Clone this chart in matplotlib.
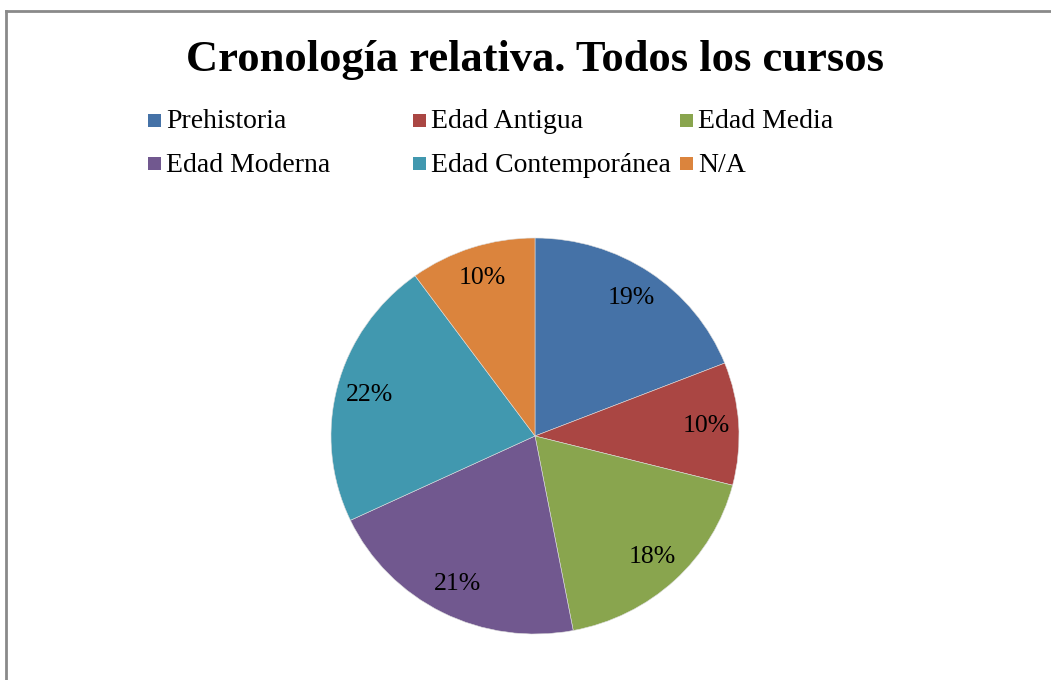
import matplotlib
matplotlib.use('Agg')
import matplotlib.pyplot as plt
from matplotlib.patches import Rectangle
from matplotlib.lines import Line2D

# Datos del gráfico
periodos = ['Prehistoria', 'Edad Antigua', 'Edad Media',
            'Edad Moderna', 'Edad Contemporánea', 'N/A']
porcentajes = [19, 10, 18, 21, 22, 10]
colores = ['#4572A7', '#AA4643', '#89A54E', '#71588F', '#4198AF', '#DB843D']
titulo = 'Cronología relativa. Todos los cursos'

plt.rcParams['font.family'] = ['Liberation Serif', 'DejaVu Serif']

W, H = 1051, 680
fig = plt.figure(figsize=(W / 100, H / 100), dpi=100)


def fx(px):
    return px / W


def fy(py):
    return 1 - py / H


# marco gris (solo lados izquierdo y superior visibles)
fig.add_artist(Line2D([fx(6), 1], [fy(11), fy(11)], color='#8a8a8a', lw=2))
fig.add_artist(Line2D([fx(6), fx(6)], [fy(11), 0], color='#8a8a8a', lw=2))

fig.text(fx(535), fy(60), titulo, ha='center', va='center',
         fontsize=32, fontweight='bold')

# leyenda en dos filas y tres columnas
col_x = [148, 413, 680]
fila_y = [120, 163]
for i, (nombre, color) in enumerate(zip(periodos, colores)):
    x = col_x[i % 3]
    y = fila_y[i // 3]
    fig.add_artist(Rectangle((fx(x), fy(y + 7)), fx(13), 13 / H,
                             facecolor=color, edgecolor='none'))
    fig.text(fx(x + 18), fy(y + 2), nombre, ha='left', va='center',
             fontsize=20)

# tarta
ax = fig.add_axes([fx(331), fy(634), fx(408), 396 / H])
ax.pie(porcentajes, colors=colores, startangle=90, counterclock=False,
       autopct='%1.0f%%', pctdistance=0.84, radius=1,
       wedgeprops=dict(edgecolor='#dddddd', linewidth=0.4),
       textprops=dict(fontsize=18.5, color='black'))
ax.set_aspect('auto')
ax.set_xlim(-1, 1)
ax.set_ylim(-1, 1)

fig.savefig('out.png', dpi=100)
